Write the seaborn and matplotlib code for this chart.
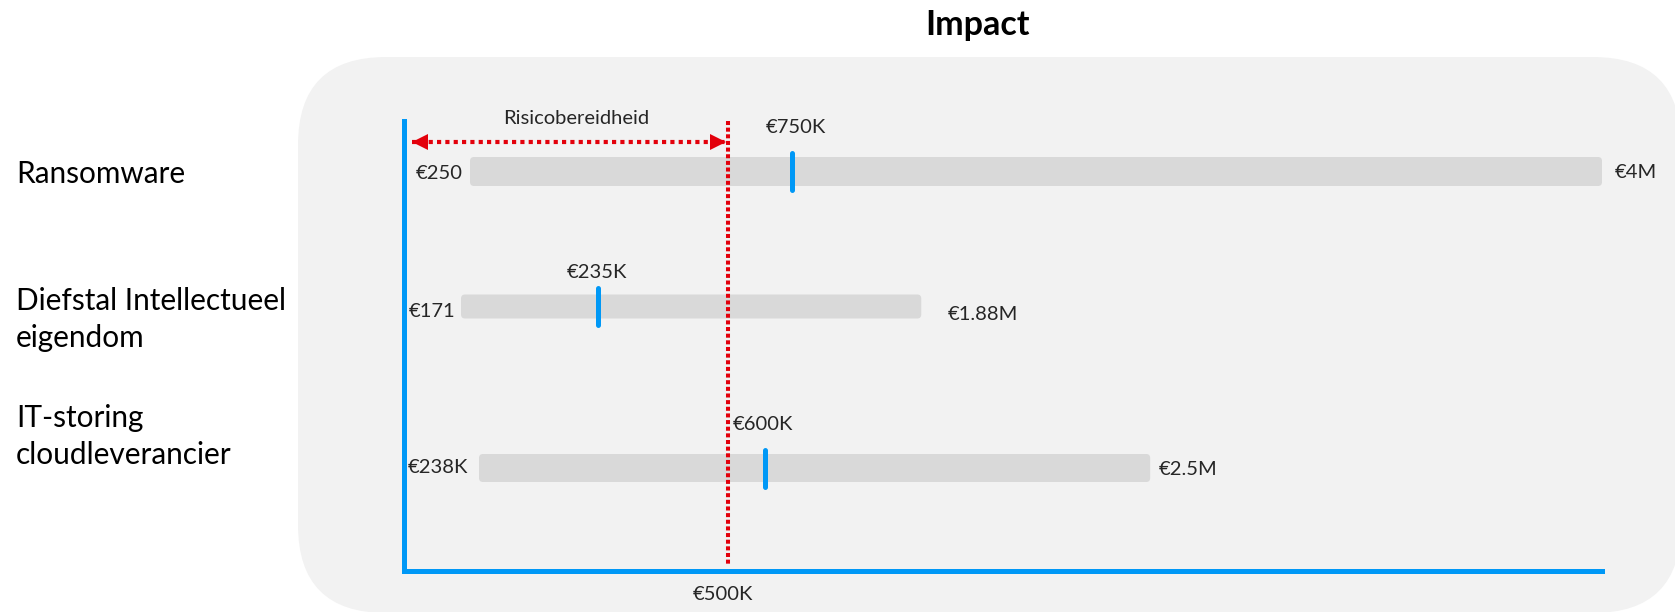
import numpy as np
import pandas as pd
import matplotlib
matplotlib.use("Agg")
import matplotlib.pyplot as plt
import seaborn as sns
from matplotlib.patches import FancyBboxPatch
from matplotlib.transforms import offset_copy

# ---------------- data ----------------
title = "Impact"
categories = ["Ransomware", "Diefstal Intellectueel\neigendom", "IT-storing\ncloudleverancier"]
# positions on the schematic impact axis (0 = origin, 100 = end of axis)
range_start = [5.55, 4.8, 6.3]
range_end = [100.0, 43.2, 62.3]
expected = [32.4, 16.2, 30.2]
low_labels = ["€250", "€171", "€238K"]
high_labels = ["€4M", "€1.88M", "€2.5M"]
expected_labels = ["€750K", "€235K", "€600K"]
appetite = 27.1
appetite_label = "€500K"
appetite_arrow_start = 0.7
appetite_text = "Risicobereidheid"

# ---------------- layout (pixels) ----------------
W, H = 1675, 612
AX_L, AX_R, AX_T, AX_B = 403.5, 1602, 121, 571
XU = (AX_R - AX_L) / 100.0
row_center = [171.5, 306.5, 468]
bar_h = [29, 24, 28]
marker_half = 18.5
lo_base = [179, 317, 473]
lo_gap = [7, 6, 11]
hi_base = [178, 320, 475]
hi_gap = [13, 26, 9]
mid_base = [133, 278, 430]
mid_dx = [4, -1, -3]
cat_base = [183, 310, 427]
cat_line_gap = 37
arrow_y = 142

BLUE = "#0098F6"
RED = "#E3000B"
PANEL = "#F2F2F2"
BAR = "#D9D9D9"

sns.set_theme(style="white")
plt.rcParams["font.family"] = ["Lato", "DejaVu Sans"]

fig = plt.figure(figsize=(W / 100, H / 100), dpi=100)
fig.patch.set_facecolor("white")

# background frame in pixel coordinates
bg = fig.add_axes([0, 0, 1, 1])
bg.set_xlim(0, W)
bg.set_ylim(H, 0)
bg.axis("off")
bg.add_patch(FancyBboxPatch((298, 57), 1383, 556,
                            boxstyle="round,pad=0,rounding_size=88",
                            fc=PANEL, ec="none"))
bg.text(978, 35, title, ha="center", va="baseline", fontsize=24.5,
        fontweight="bold", color="black")
for cat, base in zip(categories, cat_base):
    for i, line in enumerate(cat.split("\n")):
        bg.text(16, base + i * cat_line_gap, line, ha="left", va="baseline",
                fontsize=21.4, color="black")

# main axes
ax = fig.add_axes([AX_L / W, 1 - AX_B / H, (AX_R - AX_L) / W, (AX_B - AX_T) / H])
ax.patch.set_alpha(0)

df = pd.DataFrame({
    "category": categories,
    "start": range_start,
    "span": np.subtract(range_end, range_start),
    "row": row_center,
})
sns.barplot(data=df, x="span", y="row", orient="h", native_scale=True,
            left=df["start"].to_numpy(), color=BAR, saturation=1, width=0.2,
            errorbar=None, ax=ax, zorder=1)

ax.set_xlim(0, 100)
ax.set_ylim(AX_B, AX_T)

# round the bar corners
r = 4 / XU
for p in list(ax.patches):
    x0, y0, w, h = p.get_x(), p.get_y(), p.get_width(), p.get_height()
    yc = y0 + h / 2
    idx = int(np.argmin(np.abs(np.array(row_center) - yc)))
    bh = bar_h[idx]
    p.remove()
    ax.add_patch(FancyBboxPatch((x0, yc - bh / 2), w, bh,
                                boxstyle=f"round,pad=0,rounding_size={r}",
                                mutation_aspect=XU, fc=BAR, ec="none", zorder=1))

# appetite line
ax.plot([appetite, appetite], [AX_T, 565], color=RED, lw=2.9,
        linestyle=(0, (1, 0.65)), solid_capstyle="butt", dash_capstyle="butt",
        zorder=3, clip_on=False)

# appetite arrow
head = 16
ax.plot([appetite_arrow_start, appetite - 0.25], [arrow_y, arrow_y], color=RED, lw=3,
        linestyle=(0, (1, 1)), dash_capstyle="butt", zorder=3, clip_on=False)
tl = offset_copy(ax.transData, fig=fig, x=head / 2, y=0, units="dots")
tr = offset_copy(ax.transData, fig=fig, x=-head / 2 - 2, y=0, units="dots")
ax.plot([appetite_arrow_start], [arrow_y], marker="<", ms=head * 0.72, color=RED,
        mec=RED, mew=0, transform=tl, zorder=4, clip_on=False)
ax.plot([appetite], [arrow_y], marker=">", ms=head * 0.72, color=RED,
        mec=RED, mew=0, transform=tr, zorder=4, clip_on=False)
ax.annotate(appetite_text, xy=((appetite_arrow_start + appetite) / 2, 124),
            xytext=(6, 0), textcoords="offset pixels", ha="center",
            va="baseline", fontsize=14.5)
ax.annotate(appetite_label, xy=(appetite, 600), xytext=(-5, 0),
            textcoords="offset pixels", ha="center", va="baseline", fontsize=14.5,
            annotation_clip=False)

# expected-impact markers and labels
for i in range(len(categories)):
    yc = row_center[i]
    ax.plot([expected[i], expected[i]], [yc - marker_half, yc + marker_half],
            color=BLUE, lw=3.6, solid_capstyle="round", zorder=5)
    ax.annotate(expected_labels[i], xy=(expected[i], mid_base[i]), xytext=(mid_dx[i], 0),
                textcoords="offset pixels", ha="center", va="baseline", fontsize=14.5)
    ax.annotate(low_labels[i], xy=(range_start[i], lo_base[i]), xytext=(-lo_gap[i], 0),
                textcoords="offset pixels", ha="right", va="baseline", fontsize=14.5)
    ax.annotate(high_labels[i], xy=(range_end[i], hi_base[i]), xytext=(hi_gap[i], 0),
                textcoords="offset pixels", ha="left", va="baseline", fontsize=14.5,
                annotation_clip=False)

# axis styling
for s in ["top", "right"]:
    ax.spines[s].set_visible(False)
for s in ["left", "bottom"]:
    ax.spines[s].set_visible(True)
    ax.spines[s].set_color(BLUE)
    ax.spines[s].set_linewidth(3.6)
    ax.spines[s].set_zorder(6)
ax.set_xticks([])
ax.set_yticks([])
ax.set_xlabel("")
ax.set_ylabel("")

fig.savefig("out.png", dpi=100, facecolor="white")
